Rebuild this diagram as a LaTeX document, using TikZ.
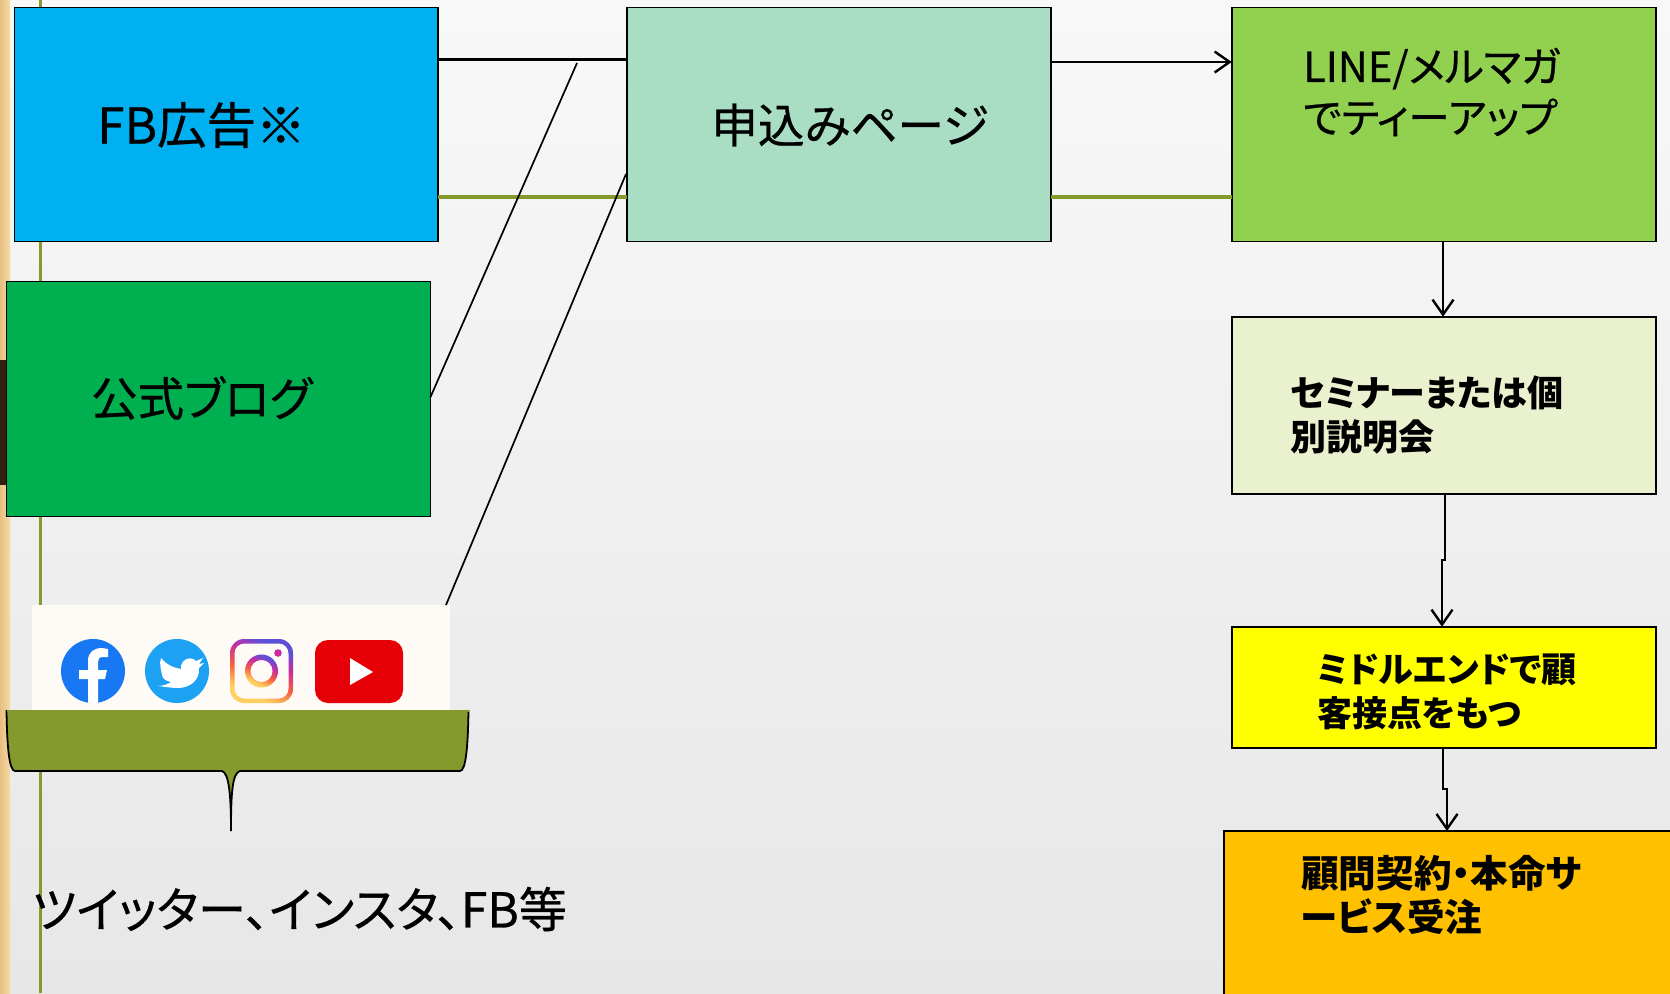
\documentclass[tikz,border=0pt]{standalone}
\usepackage{fontspec}
\usetikzlibrary{arrows.meta,calc}
\newfontfamily\jpf[RawFeature={+palt},FakeBold=0.6]{Noto Sans CJK JP}
\newfontfamily\jpb[RawFeature={+palt}]{Noto Sans CJK JP}
\definecolor{olv}{HTML}{849A2C}
\definecolor{fbc}{HTML}{00B0F0}
\definecolor{blogc}{HTML}{00B050}
\definecolor{appc}{HTML}{A9DDC4}
\definecolor{linec}{HTML}{92D050}
\definecolor{semc}{HTML}{E9F1CF}
\definecolor{ylw}{HTML}{FFFF00}
\definecolor{org}{HTML}{FFC000}
\definecolor{panelc}{HTML}{FEFAF6}
\definecolor{fblue}{HTML}{1877F2}
\definecolor{tblue}{HTML}{1DA1F2}
\definecolor{yred}{HTML}{E60008}
\definecolor{igtop}{HTML}{5B51D8}
\definecolor{igmid}{HTML}{C92BA0}
\definecolor{igorg}{HTML}{F56040}
\definecolor{igbot}{HTML}{FFD060}
\definecolor{bgtop}{HTML}{F8F8F8}
\definecolor{bgbot}{HTML}{E7E7E7}
\definecolor{stripa}{HTML}{E8BE80}
\definecolor{stripb}{HTML}{F3DCA8}
\pgfdeclareverticalshading{igshade}{100bp}{color(0bp)=(igbot);color(30bp)=(igbot);color(45bp)=(igorg);color(60bp)=(igmid);color(72bp)=(igtop);color(100bp)=(igtop)}
\tikzset{
 x=1pt,y=-1pt,
 boxn/.style={draw=black,line width=1.9pt,inner sep=0pt,outer sep=0pt,anchor=north west},
 lbl/.style={anchor=west,inner sep=0pt,align=left,text=black},
 conn/.style={draw=black,line width=2.4pt},
 thinl/.style={draw=black,line width=1.7pt},
 arr/.style={conn,-{Straight Barb[length=15pt,width=21pt]}},
 olvl/.style={draw=olv,line width=3.2pt}
}
\begin{document}
\begin{tikzpicture}
\useasboundingbox (0,0) rectangle (1670,993);
\clip (0,0) rectangle (1670,993);
\shade[top color=bgtop,bottom color=bgbot] (0,0) rectangle (1670,993);
\fill[left color=stripa,right color=stripb] (0,0) rectangle (10,993);
\fill[black!75!brown] (0,360) rectangle (8,485);
\draw[olvl] (40.5,0) -- (40.5,993);
%
\node[boxn,fill=fbc,minimum width=423.5pt,minimum height=234pt] (fb) at (14.5,7.5) {};
\node[boxn,fill=blogc,minimum width=424pt,minimum height=235pt] (blog) at (6.5,281.5) {};
\node[boxn,fill=appc,minimum width=424pt,minimum height=234pt] (app) at (626.7,7.5) {};
\node[boxn,fill=linec,minimum width=424pt,minimum height=234pt] (line) at (1231.7,7.5) {};
\node[boxn,fill=semc,minimum width=424pt,minimum height=177pt] (sem) at (1231.7,316.7) {};
\node[boxn,fill=ylw,minimum width=424pt,minimum height=121.5pt] (midb) at (1231.7,626.7) {};
\node[boxn,fill=org,minimum width=470pt,minimum height=190pt] (endb) at (1224,831) {};
\node[anchor=north west,fill=panelc,inner sep=0pt,minimum width=418pt,minimum height=105pt] (panel) at (32,605) {};
%
\draw[olvl] (fb.east |- 0,197) -- (app.west |- 0,197);
\draw[olvl] (app.east |- 0,197) -- (line.west |- 0,197);
\coordinate (blogend) at (577,63);
\coordinate (appin) at (626,174);
\coordinate (panelout) at (446,605);
\draw[conn] (fb.east |- 0,59.6) -- (app.west |- 0,59.6);
\draw[thinl] (blog.east |- 0,397) -- (blogend);
\draw[thinl] (panelout) -- (appin);
\draw[arr] (app.east |- 0,62) -- (line.west |- 0,62);
\draw[arr] (line.south -| 1443,0) -- (sem.north -| 1443,0);
\draw[arr] (sem.south -| 1445,0) -- (1445,560) -- (1442,560) -- (midb.north -| 1442,0);
\draw[arr] (midb.south -| 1443,0) -- (1443,789) -- (1447,789) -- (endb.north -| 1447,0);
%
% brace
\draw[fill=olv,draw=black,line width=1.8pt] (6.5,710) .. controls (7,745) and (9,771) .. (15,771)
 -- (222,771) .. controls (229,773) and (231,795) .. (231,831)
 .. controls (231,795) and (232,773) .. (240,771) -- (460,771)
 .. controls (466,771) and (468,745) .. (468.5,710);
\fill[olv] (6.5,710) rectangle (468.5,712);
%
% icons
\fill[fblue] (93,671) circle (32pt);
\begin{scope}
\clip (93,671) circle (32pt);
\fill[white] (88,703) -- (88,679) -- (79,679) -- (79,670) -- (88,670) -- (88,661)
 .. controls (88,652) and (94,648) .. (102,648) -- (108,649) -- (108,657) -- (103,657)
 .. controls (99,657) and (98,659) .. (98,662) -- (98,670) -- (107,670) -- (105,679) -- (98,679) -- (98,703) -- cycle;
\end{scope}
\fill[tblue] (177,671) circle (32pt);
\fill[white] (161,658) .. controls (167,665) and (174,668) .. (181,669)
 .. controls (180,660) and (190,655) .. (196,661) -- (203,658) -- (199,664) -- (204,663) -- (199,668)
 .. controls (200,680) and (190,688) .. (178,688) .. controls (172,688) and (166,687) .. (158,686)
 .. controls (163,686) and (168,684) .. (171,682) .. controls (166,681) and (163,679) .. (162,675)
 .. controls (161,669) and (159,664) .. (161,658) -- cycle;
\shade[shading=igshade,shading angle=-25,rounded corners=14pt] (230,639) rectangle (293,703);
\fill[panelc,rounded corners=10pt] (234.5,643.5) rectangle (288.5,698.5);
\shade[shading=igshade,shading angle=-25] (261.5,671) circle (16.5pt);
\fill[panelc] (261.5,671) circle (11pt);
\fill[igmid] (278,653) circle (3.8pt);
\fill[yred,rounded corners=13pt] (315,640) rectangle (403,703);
\fill[white] (350,658) -- (373,672) -- (350,685) -- cycle;
%
% texts
\node[lbl,font=\jpf\fontsize{49.5}{51}\selectfont] (tfb) at (97,125) {FB広告※};
\node[lbl,font=\jpf\fontsize{46.4}{51}\selectfont] (tblog) at (91,398) {公式ブログ};
\node[lbl,font=\jpf\fontsize{46.7}{51}\selectfont] (tapp) at (711,125) {申込みページ};
\node[lbl,font=\jpf\fontsize{41.5}{51}\selectfont] (tline) at (1303,92) {LINE/メルマガ\\でティーアップ};
\node[lbl,font=\jpb\bfseries\fontsize{36}{43.5}\selectfont] (tsem) at (1290,415) {セミナーまたは個\\別説明会};
\node[lbl,font=\jpb\bfseries\fontsize{35}{43.5}\selectfont] (tmid) at (1317,692) {ミドルエンドで顧\\客接点をもつ};
\node[lbl,font=\jpb\bfseries\fontsize{37.6}{43.5}\selectfont] (tend) at (1301,895) {顧問契約・本命サ\\ービス受注};
\node[lbl,font=\jpf\fontsize{48}{51}\selectfont] (tsns) at (32,909) {ツイッター、インスタ、FB等};
\end{tikzpicture}
\end{document}
